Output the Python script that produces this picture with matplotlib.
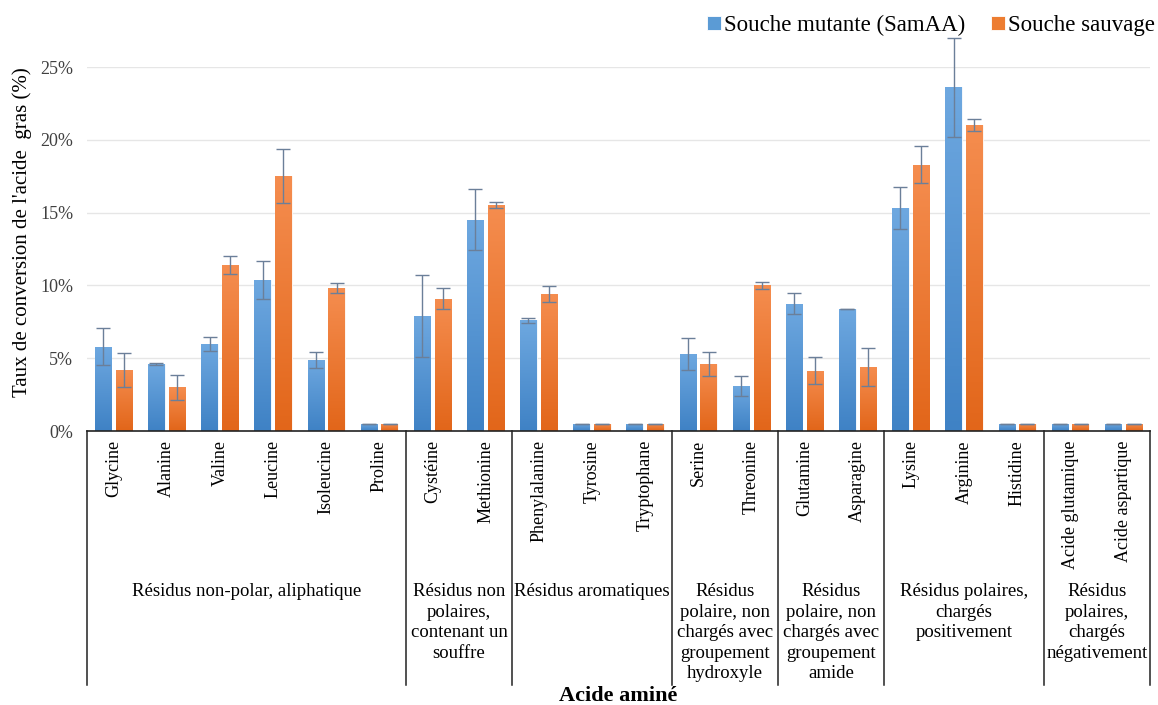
import matplotlib.pyplot as plt
import matplotlib.colors as mcolors
import numpy as np

plt.rcParams['font.family'] = ['Liberation Serif', 'DejaVu Serif']

# données
acides = ['Glycine', 'Alanine', 'Valine', 'Leucine', 'Isoleucine', 'Proline',
          'Cystéine', 'Methionine',
          'Phenylalanine', 'Tyrosine', 'Tryptophane',
          'Serine', 'Threonine',
          'Glutamine', 'Asparagine',
          'Lysine', 'Arginine', 'Histidine',
          'Acide glutamique', 'Acide aspartique']
mutante = [5.8, 4.6, 6.0, 10.4, 4.9, 0.5, 7.9, 14.5, 7.6, 0.5, 0.5,
           5.3, 3.1, 8.75, 8.4, 15.3, 23.6, 0.5, 0.5, 0.5]
mutante_err = [1.25, 0.05, 0.48, 1.3, 0.55, 0.0, 2.8, 2.1, 0.15, 0.0, 0.0,
               1.1, 0.7, 0.7, 0.0, 1.45, 3.4, 0.0, 0.0, 0.0]
sauvage = [4.2, 3.0, 11.4, 17.5, 9.8, 0.5, 9.1, 15.5, 9.4, 0.5, 0.5,
           4.6, 10.0, 4.15, 4.4, 18.3, 21.0, 0.5, 0.5, 0.5]
sauvage_err = [1.15, 0.85, 0.6, 1.85, 0.35, 0.0, 0.7, 0.2, 0.55, 0.0, 0.0,
               0.85, 0.25, 0.95, 1.3, 1.3, 0.4, 0.0, 0.0, 0.0]
groupes = ['Résidus non-polar, aliphatique',
           'Résidus non\npolaires,\ncontenant un\nsouffre',
           'Résidus aromatiques',
           'Résidus\npolaire, non\nchargés avec\ngroupement\nhydroxyle',
           'Résidus\npolaire, non\nchargés avec\ngroupement\namide',
           'Résidus polaires,\nchargés\npositivement',
           'Résidus\npolaires,\nchargés\nnégativement']
taille_groupes = [6, 2, 3, 2, 2, 3, 2]

fig = plt.figure(figsize=(11.58, 7.05), dpi=100)
ax = fig.add_axes([87/1158, 1 - 431/705, (1150 - 87)/1158, (431 - 67)/705])

x = np.arange(len(acides))
w = 0.31
dx = 0.195

bleu = mcolors.LinearSegmentedColormap.from_list('b', ['#3f82c5', '#6ea8e0'])
orange = mcolors.LinearSegmentedColormap.from_list('o', ['#e2661a', '#f58d4f'])
grad = np.linspace(0, 1, 100).reshape(-1, 1)

def barres(pos, vals, errs, cmap, col, lab):
    bars = ax.bar(pos, vals, w, color=col, edgecolor='white', linewidth=0.6,
                  label=lab, zorder=2)
    for b in bars:
        x0 = b.get_x()
        im = ax.imshow(grad, cmap=cmap, origin='lower', aspect='auto',
                       extent=(x0, x0 + b.get_width(), 0, b.get_height()),
                       zorder=2.5)
        im.set_clip_path(b)
    ax.errorbar(pos, vals, yerr=errs, fmt='none', ecolor='#6b7f99',
                elinewidth=1, capsize=5, capthick=1, zorder=4, clip_on=False)

barres(x - dx, mutante, mutante_err, bleu, '#5b9bd5', 'Souche mutante (SamAA)')
barres(x + dx, sauvage, sauvage_err, orange, '#ed7d31', 'Souche sauvage')

ax.set_xlim(-0.5, len(acides) - 0.5)
ax.set_ylim(0, 25)
ax.set_yticks(np.arange(0, 26, 5))
ax.set_yticklabels([f'{v}%' for v in range(0, 26, 5)], fontsize=13, color='#404040')
ax.yaxis.grid(True, color='#e6e6e6', linewidth=1)
ax.set_axisbelow(True)
ax.tick_params(axis='y', length=0, pad=10)
ax.set_xticks([])
for s in ['top', 'right', 'left']:
    ax.spines[s].set_visible(False)
ax.spines['bottom'].set_color('#222222')
ax.spines['bottom'].set_linewidth(1.2)
ax.spines['bottom'].set_zorder(5)

ax.set_ylabel("Taux de conversion de l'acide  gras (%)", fontsize=15)
ax.yaxis.set_label_coords(-0.052, 0.547)

# étiquettes des catégories
tr = ax.get_xaxis_transform()
for i, nom in enumerate(acides):
    ax.text(i, -0.025, nom, rotation=90, ha='center', va='top', fontsize=13,
            transform=tr)

# groupes et séparateurs
debut = -0.5
bords = [debut]
for g, n in zip(groupes, taille_groupes):
    fin = debut + n
    ax.text((debut + fin) / 2, -0.418, g, ha='center', va='top', fontsize=13.5,
            linespacing=1.27, transform=tr)
    bords.append(fin)
    debut = fin
for b in bords:
    ax.plot([b, b], [0, -0.698], color='#222222', linewidth=1.1,
            transform=tr, clip_on=False)

fig.text((87 + 1150) / 2 / 1158, 1 - 701 / 705, 'Acide aminé', ha='center',
         va='baseline', fontsize=16, fontweight='bold')

ax.legend(loc='upper right', bbox_to_anchor=(1.024, 1.2), ncol=2, frameon=False,
          fontsize=16.5, handlelength=0.6, handleheight=0.6, handletextpad=0.15,
          columnspacing=1.1)

plt.savefig('out.png', dpi=100)
plt.close()
